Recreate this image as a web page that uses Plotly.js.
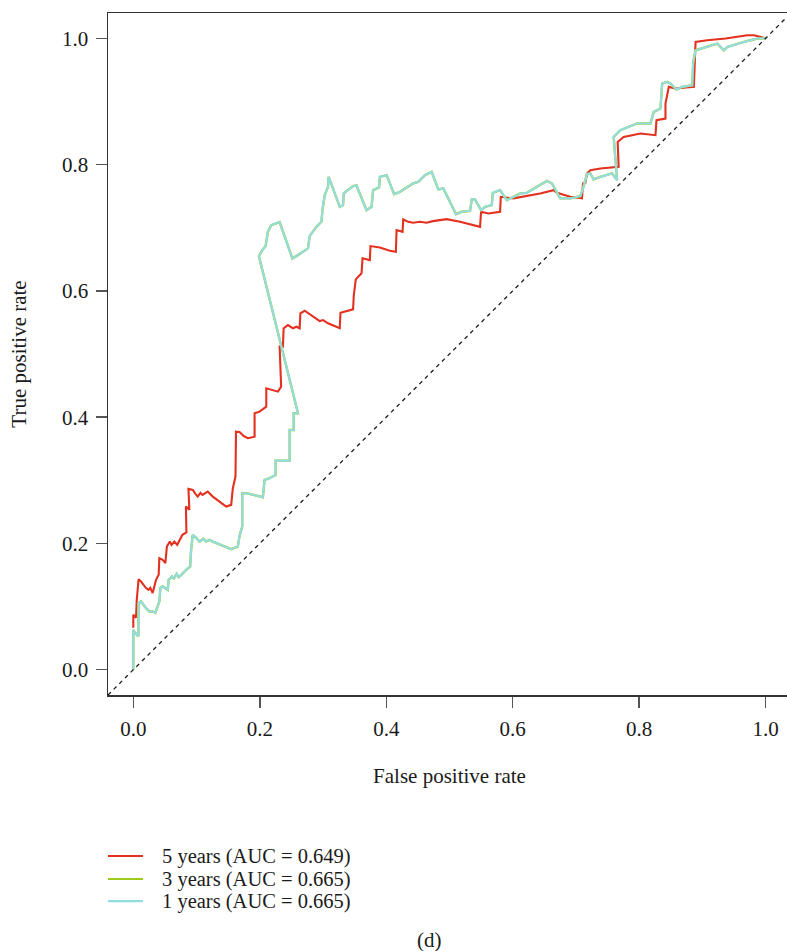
<!DOCTYPE html>
<html>
<head>
<meta charset="utf-8">
<script src="https://cdn.plot.ly/plotly-3.0.1.min.js"></script>
<style>
  html, body { margin: 0; padding: 0; overflow: hidden; background: #fff; }
  #roc { width: 791px; height: 951px; }
</style>
</head>
<body>
<div id="roc"></div>
<script>
// ROC curves of the risk model at 5, 3 and 1 years
const seriesNames = ["5 years (AUC = 0.649)", "3 years (AUC = 0.665)", "1 years (AUC = 0.665)"];
const seriesColors = ["#E3301F", "#9CCB19", "#93DDE2"];
const tickValues = [0, 0.2, 0.4, 0.6, 0.8, 1.0];

const fpr5 = [0, 0, 0.0043, 0.0055, 0.0084, 0.0122, 0.0201, 0.0242, 0.0269, 0.0306, 0.0360, 0.0401, 0.0412, 0.0464, 0.0507, 0.0531, 0.0577, 0.0605, 0.0650, 0.0694, 0.0777, 0.0840, 0.0832, 0.0887, 0.0872, 0.0940, 0.0983, 0.1019, 0.1062, 0.1094, 0.1177, 0.1257, 0.1469, 0.1548, 0.1574, 0.1616, 0.1624, 0.1680, 0.1743, 0.1811, 0.1918, 0.1918, 0.1997, 0.2103, 0.2103, 0.2182, 0.2287, 0.2338, 0.2314, 0.2366, 0.2377, 0.2446, 0.2525, 0.2578, 0.2631, 0.2642, 0.2710, 0.2948, 0.3000, 0.3079, 0.3265, 0.3276, 0.3344, 0.3423, 0.3475, 0.3487, 0.3518, 0.3609, 0.3625, 0.3740, 0.3751, 0.3899, 0.4057, 0.4152, 0.4163, 0.4258, 0.4268, 0.4347, 0.4426, 0.4532, 0.4638, 0.4738, 0.4955, 0.5166, 0.5483, 0.5499, 0.5615, 0.5800, 0.5811, 0.6011, 0.6223, 0.6434, 0.6645, 0.6699, 0.6910, 0.7095, 0.7111, 0.7147, 0.7174, 0.7227, 0.7385, 0.7623, 0.7675, 0.7659, 0.7754, 0.8019, 0.8257, 0.8273, 0.8415, 0.8415, 0.8468, 0.8574, 0.8864, 0.8891, 0.9076, 0.9366, 0.9710, 0.9815, 1.0];
const tpr5 = [0.0665, 0.0870, 0.0823, 0.1108, 0.1435, 0.1397, 0.1293, 0.1266, 0.1297, 0.1214, 0.1424, 0.1503, 0.1767, 0.1741, 0.1688, 0.1951, 0.2030, 0.1978, 0.2030, 0.1978, 0.2136, 0.2176, 0.2584, 0.2532, 0.2864, 0.2848, 0.2785, 0.2742, 0.2801, 0.2769, 0.2821, 0.2742, 0.2584, 0.2611, 0.2875, 0.3059, 0.3771, 0.3766, 0.3703, 0.3666, 0.3691, 0.4062, 0.4087, 0.4166, 0.4457, 0.4430, 0.4404, 0.4483, 0.5116, 0.5116, 0.5407, 0.5459, 0.5407, 0.5432, 0.5407, 0.5644, 0.5685, 0.5522, 0.5538, 0.5486, 0.5407, 0.5653, 0.5669, 0.5696, 0.5707, 0.5934, 0.6182, 0.6278, 0.6515, 0.6487, 0.6709, 0.6688, 0.6635, 0.6619, 0.6962, 0.6935, 0.7131, 0.7093, 0.7078, 0.7093, 0.7078, 0.7104, 0.7136, 0.7093, 0.7014, 0.7252, 0.7226, 0.7252, 0.7489, 0.7464, 0.7500, 0.7543, 0.7595, 0.7552, 0.7489, 0.7464, 0.7701, 0.7706, 0.7859, 0.7911, 0.7938, 0.7964, 0.7964, 0.8359, 0.8438, 0.8491, 0.8465, 0.8703, 0.8729, 0.8967, 0.9230, 0.9204, 0.9230, 0.9941, 0.9968, 0.9995, 1.0047, 1.0047, 1.0];

const fpr1 = [0, 0, 0.0016, 0.0052, 0.0079, 0.0084, 0.0122, 0.0201, 0.0254, 0.0306, 0.0349, 0.0412, 0.0428, 0.0464, 0.0544, 0.0559, 0.0613, 0.0642, 0.0686, 0.0718, 0.0761, 0.0835, 0.0899, 0.0914, 0.0940, 0.0994, 0.1046, 0.1109, 0.1152, 0.1204, 0.1257, 0.1548, 0.1653, 0.1680, 0.1723, 0.1723, 0.1786, 0.2049, 0.2076, 0.2155, 0.2250, 0.2250, 0.2472, 0.2472, 0.2536, 0.2536, 0.2604, 0.1986, 0.2040, 0.2092, 0.2128, 0.2182, 0.2314, 0.2515, 0.2604, 0.2762, 0.2789, 0.2895, 0.2975, 0.2991, 0.3027, 0.3079, 0.3090, 0.3265, 0.3317, 0.3328, 0.3475, 0.3529, 0.3688, 0.3767, 0.3792, 0.3887, 0.3899, 0.4005, 0.4125, 0.4216, 0.4322, 0.4426, 0.4506, 0.4612, 0.4718, 0.4823, 0.4902, 0.5103, 0.5193, 0.5325, 0.5352, 0.5404, 0.5499, 0.5563, 0.5669, 0.5685, 0.5800, 0.5906, 0.6038, 0.6117, 0.6223, 0.6382, 0.6540, 0.6620, 0.6751, 0.6910, 0.7068, 0.7111, 0.7174, 0.7227, 0.7279, 0.7385, 0.7570, 0.7650, 0.7596, 0.7702, 0.7913, 0.7967, 0.8177, 0.8230, 0.8336, 0.8363, 0.8442, 0.8494, 0.8590, 0.8680, 0.8838, 0.8854, 0.8891, 0.8970, 0.9235, 0.9339, 0.9393, 0.9710, 0.9868, 1.0];
const tpr1 = [0, 0.0633, 0.0601, 0.0554, 0.0527, 0.1055, 0.1081, 0.0976, 0.0922, 0.0922, 0.0902, 0.1081, 0.1297, 0.1318, 0.1266, 0.1424, 0.1476, 0.1448, 0.1519, 0.1467, 0.1503, 0.1582, 0.1634, 0.1899, 0.2136, 0.2089, 0.2030, 0.2073, 0.2030, 0.2057, 0.2030, 0.1910, 0.1951, 0.2120, 0.2267, 0.2796, 0.2796, 0.2733, 0.3006, 0.3033, 0.3085, 0.3312, 0.3312, 0.3797, 0.3797, 0.4062, 0.4062, 0.6551, 0.6646, 0.6709, 0.6935, 0.7041, 0.7089, 0.6514, 0.6566, 0.6672, 0.6867, 0.7014, 0.7093, 0.7278, 0.7516, 0.7647, 0.7805, 0.7331, 0.7358, 0.7543, 0.7658, 0.7669, 0.7278, 0.7331, 0.7595, 0.7638, 0.7805, 0.7832, 0.7532, 0.7568, 0.7638, 0.7701, 0.7726, 0.7832, 0.7884, 0.7606, 0.7622, 0.7215, 0.7252, 0.7267, 0.7448, 0.7448, 0.7278, 0.7331, 0.7358, 0.7552, 0.7595, 0.7437, 0.7500, 0.7543, 0.7552, 0.7647, 0.7742, 0.7701, 0.7464, 0.7464, 0.7500, 0.7622, 0.7848, 0.7859, 0.7764, 0.7805, 0.7859, 0.7753, 0.8438, 0.8544, 0.8623, 0.8650, 0.8650, 0.8834, 0.8888, 0.9283, 0.9309, 0.9283, 0.9188, 0.9230, 0.9256, 0.9625, 0.9810, 0.9837, 0.9916, 0.9810, 0.9862, 0.9957, 0.9995, 1.0];

// the 3-year curve coincides with the 1-year curve
const fpr3 = fpr1.slice();
const tpr3 = tpr1.slice();

const serif = "Liberation Serif, Times New Roman, serif";
const ink = "#1a1a1a";
const fontSize = 21;
const legendFontSize = 20.5;

const traces = [
  { x: fpr5, y: tpr5, mode: "lines", line: { color: seriesColors[0], width: 2.1 }, name: seriesNames[0], hoverinfo: "skip" },
  { x: fpr3, y: tpr3, mode: "lines", line: { color: seriesColors[1], width: 2.4 }, name: seriesNames[1], hoverinfo: "skip" },
  { x: fpr1, y: tpr1, mode: "lines", line: { color: seriesColors[2], width: 2.1 }, name: seriesNames[2], hoverinfo: "skip" }
];

// hand-drawn legend block below the plot
const legendY = [-0.2361, -0.2698, -0.3021];
const shapes = [
  { type: "line", xref: "paper", yref: "paper", x0: 0, y0: 0, x1: 1, y1: 1,
    line: { color: ink, width: 1.3, dash: "4px,4px" } }
];
const annotations = [];
seriesNames.forEach((nm, i) => {
  shapes.push({ type: "line", xref: "paper", yref: "paper", x0: 0, x1: 0.0512, y0: legendY[i], y1: legendY[i],
    line: { color: seriesColors[i], width: 2.2 } });
  annotations.push({ xref: "paper", yref: "paper", x: 0.0761, y: legendY[i], xanchor: "left", yanchor: "middle",
    text: nm, showarrow: false, font: { family: serif, size: legendFontSize, color: ink } });
});
annotations.push({ xref: "paper", yref: "paper", x: 0.4714, y: -0.359, xanchor: "center", yanchor: "middle",
  text: "(d)", showarrow: false, font: { family: serif, size: fontSize, color: ink } });

const axisCommon = {
  range: [-0.04, 1.04],
  tickvals: tickValues,
  tickformat: ".1f",
  ticks: "outside",
  ticklen: 11,
  tickwidth: 1.5,
  tickcolor: "#555",
  ticklabelstandoff: 3,
  showline: true,
  linecolor: "#333",
  linewidth: 1.5,
  mirror: true,
  showgrid: false,
  zeroline: false,
  tickfont: { family: serif, size: fontSize, color: ink },
  fixedrange: true
};

const layout = {
  width: 791,
  height: 951,
  margin: { l: 108, r: 0, t: 13, b: 256 },
  paper_bgcolor: "#fff",
  plot_bgcolor: "#fff",
  showlegend: false,
  xaxis: Object.assign({}, axisCommon, {
    title: { text: "False positive rate", font: { family: serif, size: fontSize, color: ink }, standoff: 28 }
  }),
  yaxis: Object.assign({}, axisCommon, {
    title: { text: "True positive rate", font: { family: serif, size: fontSize, color: ink }, standoff: 29 }
  }),
  shapes: shapes,
  annotations: annotations
};

Plotly.newPlot("roc", traces, layout, { displayModeBar: false, staticPlot: true });
</script>
</body>
</html>
